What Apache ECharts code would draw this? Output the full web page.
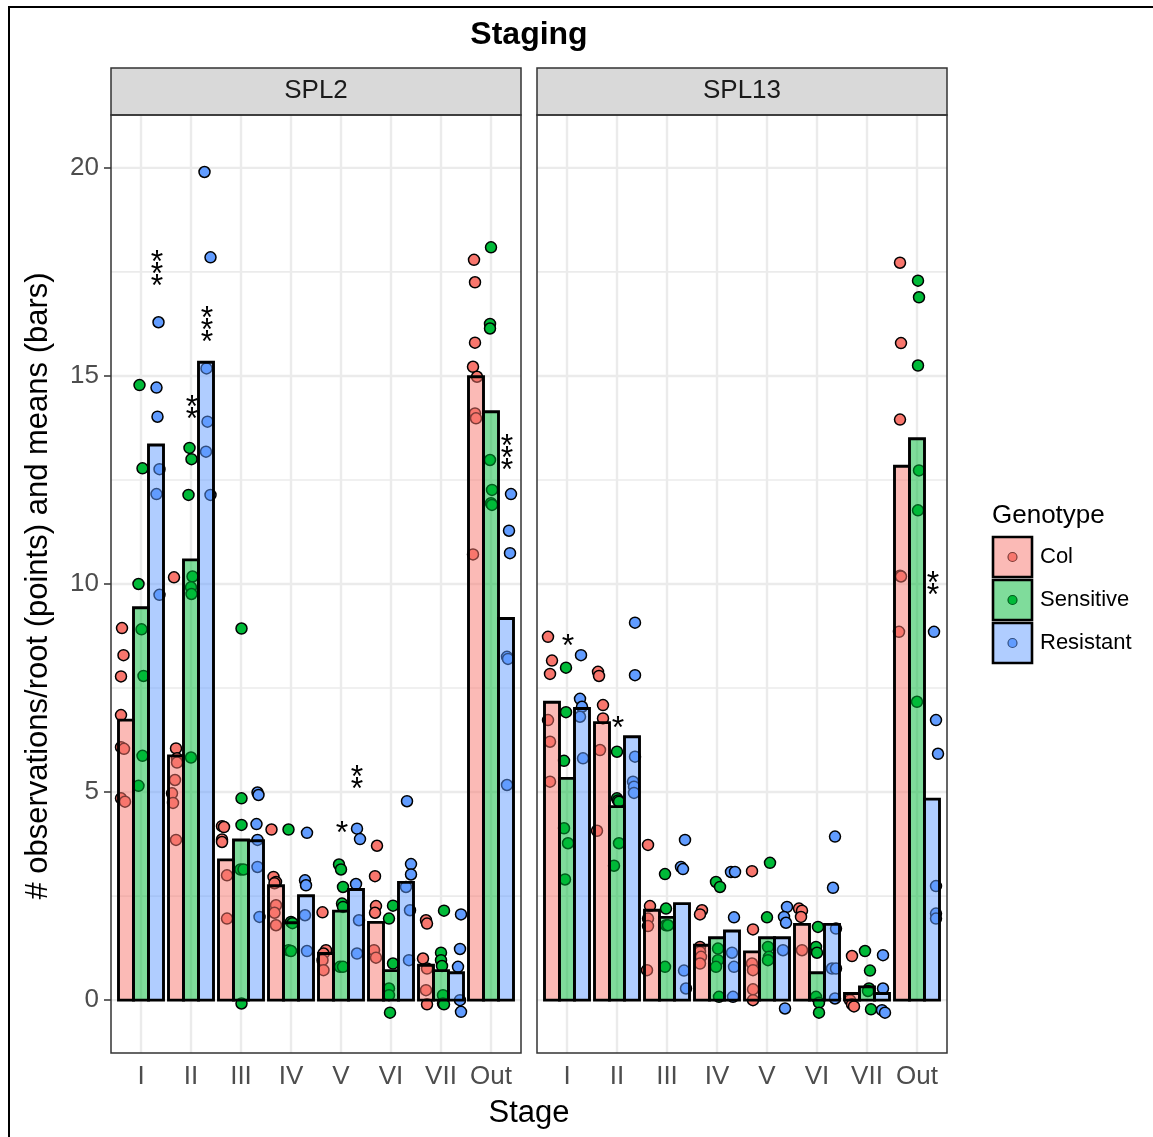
<!DOCTYPE html>
<html>
<head>
<meta charset="utf-8">
<script src="https://cdn.jsdelivr.net/npm/echarts@6/dist/echarts.min.js"></script>
<style>
  html, body { margin: 0; padding: 0; background: #ffffff; }
  #chart { width: 1153px; height: 1137px; }
</style>
</head>
<body>
<div id="chart"></div>
<script>
// ---- data ----
const facets = ['SPL2', 'SPL13'];
const stages = ['I', 'II', 'III', 'IV', 'V', 'VI', 'VII', 'Out'];
const genotypes = ['Col', 'Sensitive', 'Resistant'];
const yTicks = [0, 5, 10, 15, 20];
const yMinorGrid = [2.5, 7.5, 12.5, 17.5];

// genotype means per stage (bars)
const spl2ColMeans  = [6.73, 5.87, 3.37, 2.75, 1.12, 1.87, 0.84, 14.98];
const spl2SensMeans = [9.43, 10.58, 3.85, 1.86, 2.14, 0.71, 0.71, 14.14];
const spl2ResMeans  = [13.34, 15.33, 3.83, 2.51, 2.66, 2.83, 0.66, 9.17];
const spl13ColMeans  = [7.16, 6.67, 2.16, 1.32, 1.16, 1.82, 0.16, 12.83];
const spl13SensMeans = [5.33, 4.65, 1.99, 1.50, 1.50, 0.66, 0.32, 13.49];
const spl13ResMeans  = [7.01, 6.33, 2.32, 1.66, 1.50, 1.82, 0.16, 4.83];

// observations per stage: [observations/root, horizontal jitter in stage units]
const spl2ColObs = [
  [[8.94,-0.08],[8.29,-0.05],[7.78,-0.1],[6.85,-0.1],[6.08,-0.1],[6.04,-0.04],[4.85,-0.1],[4.77,-0.02]],
  [[10.16,-0.04],[6.05,0],[5.81,0.02],[5.71,0.02],[5.29,-0.02],[4.97,-0.08],[4.74,-0.06],[3.85,0]],
  [[4.18,-0.08],[4.16,-0.04],[3.86,-0.08],[3.80,-0.08],[3.00,0.02],[1.96,0.02]],
  [[4.10,-0.09],[2.96,-0.05],[2.84,0],[2.81,-0.03],[2.28,0],[2.10,-0.03],[1.80,0]],
  [[2.11,-0.07],[1.20,0],[1.12,-0.05],[0.96,-0.07],[0.72,-0.05]],
  [[3.71,0.02],[2.98,-0.02],[2.26,0],[2.10,-0.02],[1.20,-0.04],[1.02,0]],
  [[1.92,0],[1.84,0.02],[1.00,-0.06],[0.76,0.02],[0.24,0],[-0.10,0.02]],
  [[17.79,-0.04],[17.25,-0.02],[15.80,-0.02],[15.22,-0.06],[14.98,0.02],[14.10,-0.02],[13.98,0],[10.71,-0.06]]
];
const spl2SensObs = [
  [[14.78,-0.03],[12.78,0.03],[10.00,-0.05],[8.91,0.01],[7.79,0.05],[5.87,0.03],[5.15,-0.05]],
  [[13.27,-0.03],[13.00,0.01],[12.14,-0.05],[10.18,0.03],[9.92,0],[9.76,0.01],[5.83,0]],
  [[8.93,0.01],[4.85,0.01],[4.21,0.01],[3.14,-0.01],[3.14,0.05],[-0.08,0.01]],
  [[4.10,-0.05],[1.88,0],[1.85,0.03],[1.20,-0.05],[1.18,0]],
  [[3.26,-0.04],[3.14,0],[2.72,0.04],[2.32,0.02],[2.24,0.04],[0.80,-0.02],[0.80,0.04]],
  [[2.27,0.04],[1.96,-0.04],[0.88,0.04],[0.28,-0.04],[0.12,-0.04],[-0.30,-0.02]],
  [[2.15,0.06],[1.14,0],[0.96,0],[0.82,0.02],[0.12,0.04],[-0.08,0.04],[-0.10,0.06]],
  [[18.09,0],[16.25,-0.02],[16.14,-0.02],[12.98,-0.02],[12.26,0.02],[11.94,0],[11.90,0.02]]
];
const spl2ResObs = [
  [[16.29,0.05],[14.72,0.01],[14.02,0.03],[12.76,0.07],[12.16,0.01],[9.74,0.07]],
  [[19.90,-0.03],[17.85,0.09],[15.18,0.01],[13.90,0.03],[13.18,0],[12.14,0.09]],
  [[4.99,0.03],[4.93,0.05],[4.23,0.01],[3.85,0.03],[3.20,0.03],[2.00,0.07]],
  [[4.02,0.02],[2.88,-0.02],[2.76,0],[2.04,-0.02],[1.18,0.02]],
  [[4.12,0.02],[3.87,0.08],[2.79,0],[1.92,0.06],[1.12,0.02]],
  [[4.78,0.02],[3.27,0.1],[3.02,0.1],[2.72,0],[2.16,0.08],[0.96,0.06]],
  [[2.06,0.1],[1.23,0.08],[0.80,0.04],[0.00,0.08],[-0.28,0.1]],
  [[12.16,0.1],[11.28,0.06],[10.74,0.08],[8.25,0.02],[8.20,0.04],[5.17,0.02]]
];
const spl13ColObs = [
  [[8.73,-0.08],[8.16,0],[7.84,-0.04],[6.73,-0.08],[6.21,-0.04],[5.25,-0.04]],
  [[7.89,-0.08],[7.79,-0.06],[7.09,0.02],[6.77,0.02],[6.01,-0.04],[4.07,-0.1]],
  [[3.73,-0.08],[2.26,-0.04],[1.96,-0.08],[1.78,-0.08],[0.72,-0.1]],
  [[2.16,0],[2.06,-0.04],[1.28,-0.04],[1.16,-0.04],[1.04,-0.02],[0.88,-0.04]],
  [[3.10,0],[1.70,0.02],[0.88,0],[0.72,0.02],[0.26,0.02],[0.00,0.02]],
  [[2.20,-0.06],[2.15,0],[2.00,-0.02],[1.20,0]],
  [[1.06,0],[0.00,-0.04],[-0.10,0],[-0.15,0.04]],
  [[17.72,-0.04],[15.79,-0.02],[13.95,-0.04],[10.20,-0.04],[10.18,-0.02],[8.85,-0.06]]
];
const spl13SensObs = [
  [[7.99,-0.02],[6.92,-0.02],[5.75,-0.06],[4.13,-0.06],[3.77,0.02],[2.90,-0.04]],
  [[5.97,0],[4.85,0],[4.80,0.02],[4.77,0.04],[3.77,0.04],[3.23,-0.06]],
  [[3.03,-0.04],[2.20,-0.02],[1.80,-0.02],[1.80,0.02],[0.80,-0.04]],
  [[2.84,-0.02],[2.72,0.06],[1.24,0.02],[0.96,0.02],[0.80,-0.02],[0.08,0.04]],
  [[3.30,0.06],[1.99,0],[1.28,0.02],[1.04,0.04],[0.96,0.02]],
  [[1.76,0.02],[1.28,-0.02],[1.14,0],[0.08,-0.02],[-0.06,0.04],[-0.30,0.04]],
  [[1.18,-0.04],[0.71,0.06],[0.28,0.04],[0.22,0.02],[-0.22,0.08]],
  [[17.29,0.02],[16.89,0.04],[15.25,0.02],[12.73,0.04],[11.77,0.02],[7.17,0]]
];
const spl13ResObs = [
  [[8.29,-0.02],[7.24,-0.04],[7.05,0],[6.81,-0.04],[5.81,0.02]],
  [[9.07,0.06],[7.81,0.06],[5.85,0.06],[5.25,0.02],[5.13,0.04],[4.98,0.04]],
  [[3.85,0.06],[3.20,-0.02],[3.15,0.02],[0.71,0.04],[0.28,0.08]],
  [[3.08,-0.02],[3.08,0.06],[1.99,0.04],[1.14,0],[0.80,0.04],[0.08,0.02]],
  [[2.24,0.1],[2.00,0.04],[1.86,0.08],[1.20,0.02],[-0.20,0.06]],
  [[3.93,0.06],[2.70,0.02],[1.72,0.08],[0.76,0],[0.76,0.08],[0.04,0.06]],
  [[1.08,0.02],[0.28,0.02],[-0.24,0],[-0.30,0.06]],
  [[8.85,0.04],[6.73,0.08],[5.92,0.12],[2.74,0.08],[2.08,0.08],[1.96,0.08]]
];

// significance marks: [stage number, genotype index, mark, height]
const spl2Signif = [[1, 2, '***', 17.6], [2, 1, '**', 14.25], [2, 2, '***', 16.25],
                    [5, 1, '*', 4.16], [5, 2, '**', 5.36], [8, 2, '***', 13.17]];
const spl13Signif = [[1, 1, '*', 8.65], [2, 1, '*', 6.68], [8, 2, '**', 10.02]];

// ---- assembly ----
const meansByFacet = [[spl2ColMeans, spl2SensMeans, spl2ResMeans], [spl13ColMeans, spl13SensMeans, spl13ResMeans]];
const obsByFacet = [[spl2ColObs, spl2SensObs, spl2ResObs], [spl13ColObs, spl13SensObs, spl13ResObs]];
const signifByFacet = [spl2Signif, spl13Signif];

const FONT = '"Liberation Sans", Arial, Helvetica, sans-serif';
const pointColors = ['#F8766D', '#00BA38', '#619CFF'];
const barFills = ['rgba(248,118,109,0.5)', 'rgba(0,186,56,0.5)', 'rgba(97,156,255,0.5)'];
const dodge = [-0.3, 0, 0.3];
const barHalf = 0.15;
const X_MIN = 0.4, X_MAX = 8.6, Y_MIN = -1.27, Y_MAX = 21.27;
const panelLeft = [111, 537], panelTop = 115, panelW = 410, panelH = 938;
const stageNums = stages.map((s, k) => k + 1);

const chart = echarts.init(document.getElementById('chart'), null, { renderer: 'canvas' });

const grids = facets.map((f, i) => ({ left: panelLeft[i], top: panelTop, width: panelW, height: panelH, show: true, backgroundColor: '#ffffff', borderWidth: 0 }));

const xAxes = facets.map((f, i) => ({
  gridIndex: i, type: 'value', min: X_MIN, max: X_MAX,
  axisLine: { show: false },
  splitLine: { show: false },
  axisTick: { show: true, customValues: stageNums, length: 7, lineStyle: { color: '#333333', width: 1.5 } },
  axisLabel: { customValues: stageNums, formatter: v => stages[Math.round(v) - 1], fontSize: 26, color: '#4D4D4D', fontFamily: FONT, margin: 11 }
}));
const yAxes = facets.map((f, i) => ({
  gridIndex: i, type: 'value', min: Y_MIN, max: Y_MAX,
  axisLine: { show: false },
  splitLine: { show: false },
  axisTick: { show: i === 0, customValues: yTicks, length: 7, lineStyle: { color: '#333333', width: 1.5 } },
  axisLabel: { show: i === 0, customValues: yTicks, fontSize: 26, color: '#4D4D4D', fontFamily: FONT, margin: 12 }
}));

const series = [];
facets.forEach((f, i) => {
  // panel grid lines: kind 0 = major horizontal, 1 = minor horizontal, 2 = vertical at stages
  const gridData = yTicks.map(v => [0, v]).concat(yMinorGrid.map(v => [1, v])).concat(stageNums.map(v => [2, v]));
  series.push({
    type: 'custom', xAxisIndex: i, yAxisIndex: i, silent: true, z: 1,
    data: gridData,
    renderItem: (params, api) => {
      const kind = api.value(0), v = api.value(1);
      let p1, p2;
      if (kind === 2) { p1 = api.coord([v, Y_MIN]); p2 = api.coord([v, Y_MAX]); }
      else { p1 = api.coord([X_MIN, v]); p2 = api.coord([X_MAX, v]); }
      return { type: 'line', shape: { x1: p1[0], y1: p1[1], x2: p2[0], y2: p2[1] },
               style: { stroke: '#EBEBEB', lineWidth: kind === 1 ? 1.6 : 2.4 } };
    }
  });
  // observations (points), drawn beneath the translucent bars
  genotypes.forEach((g, gi) => {
    const pts = [];
    obsByFacet[i][gi].forEach((list, k) => list.forEach(o => pts.push([k + 1 + dodge[gi] + o[1], o[0]])));
    series.push({
      type: 'scatter', name: g, xAxisIndex: i, yAxisIndex: i, silent: true, z: 2,
      symbol: 'circle', symbolSize: 11, data: pts,
      itemStyle: { color: pointColors[gi], borderColor: '#000000', borderWidth: 1.5, opacity: 1 }
    });
  });
  // means (bars)
  const barData = [];
  genotypes.forEach((g, gi) => meansByFacet[i][gi].forEach((m, k) => barData.push([k + 1 + dodge[gi], m, gi])));
  series.push({
    type: 'custom', xAxisIndex: i, yAxisIndex: i, silent: true, z: 3,
    data: barData,
    renderItem: (params, api) => {
      const x = api.value(0), m = api.value(1), gi = api.value(2);
      const a = api.coord([x - barHalf, m]);
      const b = api.coord([x + barHalf, 0]);
      return { type: 'rect', shape: { x: a[0], y: a[1], width: b[0] - a[0], height: b[1] - a[1] },
               style: { fill: barFills[gi], stroke: '#000000', lineWidth: 2.9 } };
    }
  });
  // significance asterisks, stacked vertically
  const sig = signifByFacet[i];
  series.push({
    type: 'custom', xAxisIndex: i, yAxisIndex: i, silent: true, z: 4,
    data: sig.map(s => [s[0] + dodge[s[1]], s[3]]),
    renderItem: (params, api) => {
      const s = sig[params.dataIndex];
      const p = api.coord([api.value(0), api.value(1)]);
      const n = s[2].length;
      const children = [];
      for (let j = 0; j < n; j++) {
        children.push({ type: 'text', x: p[0] + 1, y: p[1] + (j - (n - 1) / 2) * 12 + 7,
          style: { text: '*', fontSize: 32, fontFamily: FONT, fill: '#000000',
                   align: 'center', verticalAlign: 'middle', textAlign: 'center', textVerticalAlign: 'middle' } });
      }
      return { type: 'group', children: children };
    }
  });
});

// page furniture: frame, title, strips, panel borders, axis titles, legend
const T = (text, x, y, size, opts) => Object.assign({
  type: 'text', x: x, y: y,
  style: Object.assign({ text: text, fontSize: size, fontFamily: FONT, fill: '#000000',
    align: 'center', verticalAlign: 'middle', textAlign: 'center', textVerticalAlign: 'middle' }, (opts && opts.style) || {})
}, opts ? { rotation: opts.rotation || 0, z: opts.z || 0 } : {});

const graphics = [];
graphics.push({ type: 'rect', shape: { x: 9, y: 7, width: 1200, height: 1200 }, style: { fill: 'none', stroke: '#000000', lineWidth: 2 }, z: 20 });
graphics.push(T('Staging', 529, 35, 32, { style: { fontWeight: 'bold' } }));
facets.forEach((f, i) => {
  graphics.push({ type: 'rect', shape: { x: panelLeft[i], y: 68, width: panelW, height: panelTop - 68 },
                  style: { fill: '#D9D9D9', stroke: '#333333', lineWidth: 1.5 }, z: 10 });
  graphics.push(T(f, panelLeft[i] + panelW / 2, 91, 26, { style: { fill: '#1A1A1A' }, z: 11 }));
  graphics.push({ type: 'rect', shape: { x: panelLeft[i], y: panelTop, width: panelW, height: panelH },
                  style: { fill: 'none', stroke: '#333333', lineWidth: 1.5 }, z: 10 });
});
graphics.push(T('# observations/root (points) and means (bars)', 38, 586, 31, { rotation: Math.PI / 2 }));
graphics.push(T('Stage', 529, 1113, 31));
graphics.push(T('Genotype', 992, 516, 26, { style: { align: 'left', textAlign: 'left' } }));
genotypes.forEach((g, gi) => {
  const ky = 537 + gi * 43;
  graphics.push({ type: 'rect', shape: { x: 993, y: ky, width: 39, height: 40 }, style: { fill: '#ffffff' }, z: 1 });
  graphics.push({ type: 'circle', shape: { cx: 1012.5, cy: ky + 20, r: 4.5 }, style: { fill: pointColors[gi], stroke: '#000000', lineWidth: 1.2 }, z: 2 });
  graphics.push({ type: 'rect', shape: { x: 993, y: ky, width: 39, height: 40 }, style: { fill: barFills[gi], stroke: '#000000', lineWidth: 2.6 }, z: 3 });
  graphics.push(T(g, 1040, ky + 20, 22, { style: { align: 'left', textAlign: 'left' } }));
});

chart.setOption({
  backgroundColor: '#ffffff',
  animation: false,
  grid: grids,
  xAxis: xAxes,
  yAxis: yAxes,
  series: series,
  graphic: { elements: graphics }
});
</script>
</body>
</html>
